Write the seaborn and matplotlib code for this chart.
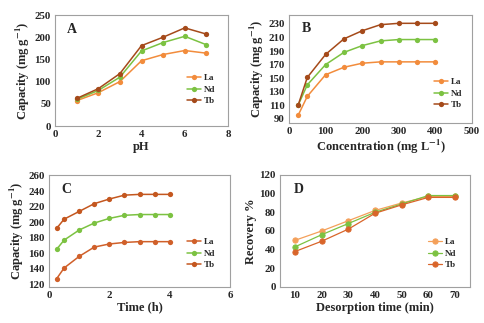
import matplotlib
matplotlib.use("Agg")
import matplotlib.pyplot as plt
import seaborn as sns
import pandas as pd

sns.set_theme(style="white")
plt.rcParams['font.family'] = ['Liberation Serif', 'DejaVu Serif']
plt.rcParams['font.weight'] = 'bold'
plt.rcParams['mathtext.fontset'] = 'stix'

series = ["La", "Nd", "Tb"]

# Panel A: pH
ph = [1, 2, 3, 4, 5, 6, 7]
a_la = [57, 75, 100, 147, 161, 170, 164]
a_nd = [60, 80, 110, 169, 188, 202, 183]
a_tb = [62, 84, 118, 181, 200, 221, 207]

# Panel B: concentration
conc = [25, 50, 100, 150, 200, 250, 300, 350, 400]
b_la = [95, 123, 155, 166, 172, 174, 174, 174, 174]
b_nd = [110, 140, 170, 188, 198, 205, 207, 207, 207]
b_tb = [110, 151, 185, 208, 220, 229, 231, 231, 231]

# Panel C: time
time_h = [0.25, 0.5, 1, 1.5, 2, 2.5, 3, 3.5, 4]
c_la = [127, 141, 156, 168, 172, 174, 175, 175, 175]
c_nd = [165, 177, 190, 199, 205, 209, 210, 210, 210]
c_tb = [192, 204, 214, 224, 230, 235, 236, 236, 236]

# Panel D: desorption
des_t = ["10", "20", "30", "40", "50", "60", "70"]
d_la = [50, 60, 71, 82, 90, 97, 97]
d_nd = [43, 56, 68, 80, 89, 98, 98]
d_tb = [38, 49, 62, 79, 88, 96, 96]

def long(x, ys):
    rows = []
    for name, yv in zip(series, ys):
        for xi, yi in zip(x, yv):
            rows.append({"x": xi, "y": yi, "s": name})
    return pd.DataFrame(rows)

W, H = 484, 323
fig = plt.figure(figsize=(W / 100, H / 100), dpi=100)

TICK = 7.8
LAB = 9
LEG = 6.5
SUP = r"$^{\mathbf{-1}}$"

def add_ax(l, t, r, b):
    return fig.add_axes([l / W, 1 - b / H, (r - l) / W, (b - t) / H])

def style(ax, letter, xl, yl, leg):
    ax.set_xlabel(xl, fontsize=LAB, fontweight="bold", labelpad=1)
    ax.set_ylabel(yl, fontsize=LAB, fontweight="bold", labelpad=2)
    ax.text(0.07, 0.84, letter, transform=ax.transAxes, fontsize=10, fontweight="bold")
    ax.legend(loc="upper left", bbox_to_anchor=leg, frameon=False,
              handlelength=1.6, handletextpad=0.3, labelspacing=0.35, borderaxespad=0,
              prop={"weight": "bold", "size": LEG})
    for s in ax.spines.values():
        s.set_color("#A0A0A0"); s.set_linewidth(0.8)
    ax.tick_params(length=0, labelsize=TICK, pad=3)

panels = [
    dict(box=(55, 15, 228, 126), df=long(ph, [a_la, a_nd, a_tb]), letter="A",
         pal=["#F28C3C", "#7CC242", "#A54A1A"], xlim=(0, 8), xt=[0, 2, 4, 6, 8],
         ylim=(0, 250), yt=[0, 50, 100, 150, 200, 250], xl="pH",
         yl="Capacity (mg g" + SUP + ")", leg=(0.74, 0.50)),
    dict(box=(289, 15, 472, 123), df=long(conc, [b_la, b_nd, b_tb]), letter="B",
         pal=["#F28C3C", "#7CC242", "#A54A1A"], xlim=(0, 500), xt=[0, 100, 200, 300, 400, 500],
         ylim=(83.6, 243.3), yt=list(range(90, 231, 20)), xl="Concentration (mg L" + SUP + ")",
         yl="Capacity (mg g" + SUP + ")", leg=(0.77, 0.45)),
    dict(box=(49, 175, 230, 287), df=long(time_h, [c_la, c_nd, c_tb]), letter="C",
         pal=["#D0602A", "#7CC242", "#C4571F"], xlim=(0, 6), xt=[0, 2, 4, 6],
         ylim=(116.5, 261), yt=list(range(120, 261, 20)), xl="Time (h)",
         yl="Capacity (mg g" + SUP + ")", leg=(0.74, 0.47)),
]

for p in panels:
    ax = add_ax(*p["box"])
    sns.lineplot(data=p["df"], x="x", y="y", hue="s", palette=p["pal"], marker="o",
                 markersize=3.8, markeredgewidth=0, linewidth=1.1, ax=ax)
    ax.set_xlim(*p["xlim"]); ax.set_xticks(p["xt"])
    ax.set_ylim(*p["ylim"]); ax.set_yticks(p["yt"])
    style(ax, p["letter"], p["xl"], p["yl"], p["leg"])

# Panel D (categorical x)
dfd = long(des_t, [d_la, d_nd, d_tb])
ax = add_ax(280, 175, 470, 287)
sns.pointplot(data=dfd, x="x", y="y", hue="s", palette=["#F4A05A", "#7CC242", "#D9652A"],
              markers="o", markersize=3.8, linewidth=0.9, ax=ax)
ax.set_xlim(-0.56, 6.56)
ax.set_ylim(0, 120); ax.set_yticks(range(0, 121, 20))
style(ax, "D", "Desorption time (min)", "Recovery %", (0.76, 0.47))

fig.savefig("out.png", dpi=100)
